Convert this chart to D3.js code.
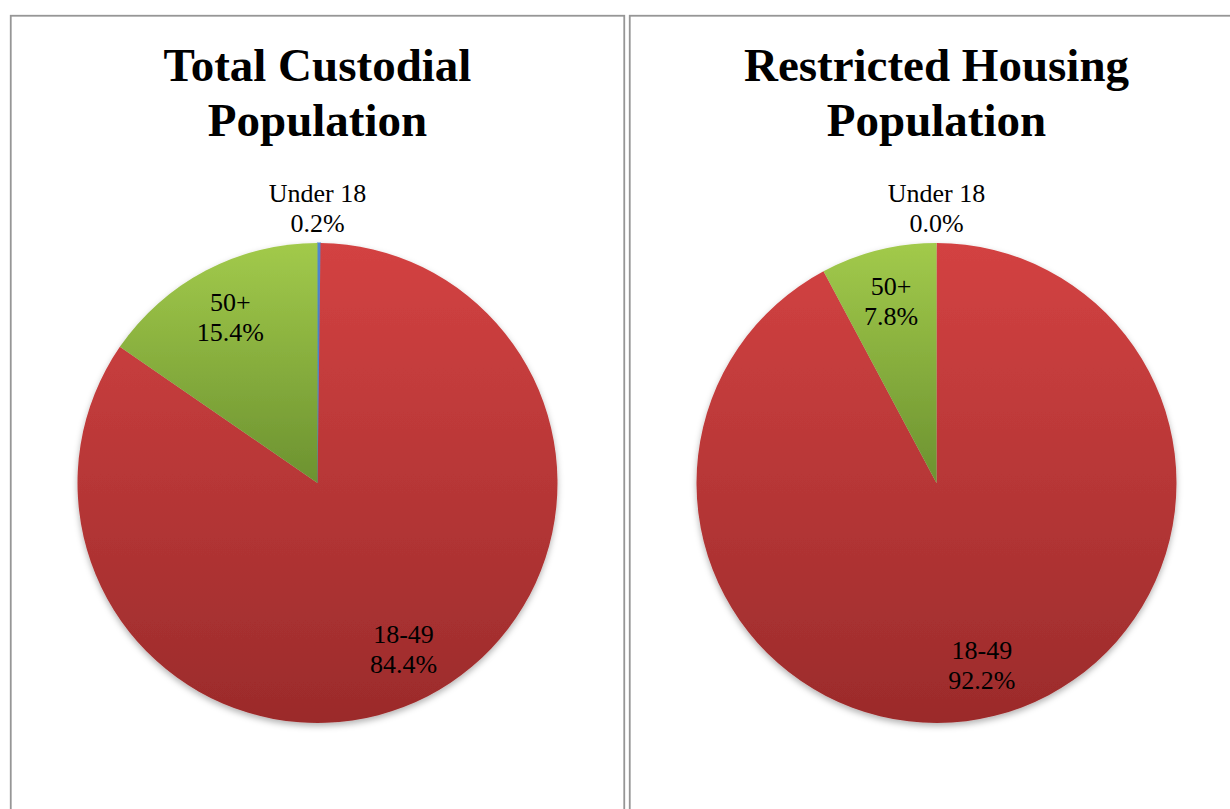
<!DOCTYPE html>
<html>
<head>
<meta charset="utf-8">
<script src="https://cdn.jsdelivr.net/npm/d3@7"></script>
<style>
  html, body { margin: 0; padding: 0; background: #fff; }
  svg { display: block; }
  .lbl { font-family: "Liberation Serif", "Times New Roman", serif; font-size: 26px; fill: #000; }
  .ttl { font-family: "Liberation Serif", "Times New Roman", serif; font-size: 47px; font-weight: bold; fill: #000; }
</style>
</head>
<body>
<svg id="chart" width="1230" height="809"></svg>
<script>
// ---- data ----
const categories = ["Under 18", "18-49", "50+"];
const totalCustodialValues = [0.2, 84.4, 15.4];
const restrictedHousingValues = [0.0, 92.2, 7.8];
const chartTitles = [["Total Custodial", "Population"], ["Restricted Housing", "Population"]];
const seriesList = [totalCustodialValues, restrictedHousingValues];

// ---- styles ----
const sliceColors = {
  "Under 18": ["#5089d2", "#3b68a6"],
  "18-49": ["#d34242", "#9b2b2b"],
  "50+": ["#a2ca4b", "#6c9230"]
};

const svg = d3.select("#chart");
const W = 1230, H = 809;
const panelW = 615, panelGap = 4, panelX0 = 10, panelY0 = 15;
const radius = 240;
const pieCY = 483;

const defs = svg.append("defs");
categories.forEach((c, i) => {
  const g = defs.append("linearGradient")
    .attr("id", "grad" + i)
    .attr("x1", 0).attr("y1", 0).attr("x2", 0).attr("y2", 1);
  g.append("stop").attr("offset", "0%").attr("stop-color", sliceColors[c][0]);
  g.append("stop").attr("offset", "100%").attr("stop-color", sliceColors[c][1]);
});
const shadow = defs.append("filter").attr("id", "shadow")
  .attr("x", "-10%").attr("y", "-10%").attr("width", "120%").attr("height", "120%");
shadow.append("feDropShadow").attr("dx", 0).attr("dy", 3).attr("stdDeviation", 3)
  .attr("flood-color", "#000").attr("flood-opacity", 0.3);

const pie = d3.pie().sort(null).value(d => d.value);
const arc = d3.arc().innerRadius(0).outerRadius(radius);
const labelArc = d3.arc().innerRadius(radius * 0.78).outerRadius(radius * 0.78);
const fmt = d3.format(".1f");

seriesList.forEach((values, pi) => {
  const px = panelX0 + pi * (panelW + panelGap);
  const cx = px + panelW / 2;
  const panel = svg.append("g");

  panel.append("rect")
    .attr("x", px + 0.75).attr("y", panelY0 + 0.75)
    .attr("width", panelW - 1.5).attr("height", H)
    .attr("fill", "none").attr("stroke", "#969696").attr("stroke-width", 1.8);

  // title
  const title = panel.append("text").attr("class", "ttl").attr("text-anchor", "middle");
  chartTitles[pi].forEach((line, li) => {
    title.append("tspan").attr("x", cx).attr("y", 81 + li * 55).text(line);
  });

  const data = categories.map((c, i) => ({ category: c, value: values[i], idx: i }));
  const arcs = pie(data);

  const g = panel.append("g").attr("transform", `translate(${cx},${pieCY})`);
  g.append("g").attr("filter", "url(#shadow)")
    .selectAll("path").data(arcs).join("path")
    .attr("d", arc)
    .attr("fill", d => `url(#grad${d.data.idx})`)
    .attr("stroke", d => d.data.value > 0 && d.data.value < 1 ? sliceColors[d.data.category][0] : "none")
    .attr("stroke-width", 1.2);

  const labels = g.append("g").attr("text-anchor", "middle");

  arcs.forEach(d => {
    const share = d.data.value;
    let x, y1;
    if (share < 1) {
      // small slice: label placed outside above the slice start
      const a = d.startAngle;
      x = Math.sin(a) * radius;
      y1 = -Math.cos(a) * radius - 41;
    } else {
      const [lx, ly] = labelArc.centroid(d);
      x = lx; y1 = ly - 6;
    }
    const t = labels.append("text").attr("class", "lbl").attr("text-anchor", "middle");
    t.append("tspan").attr("x", x).attr("y", y1).text(d.data.category);
    t.append("tspan").attr("x", x).attr("y", y1 + 30).text(fmt(share) + "%");
  });
});
</script>
</body>
</html>
